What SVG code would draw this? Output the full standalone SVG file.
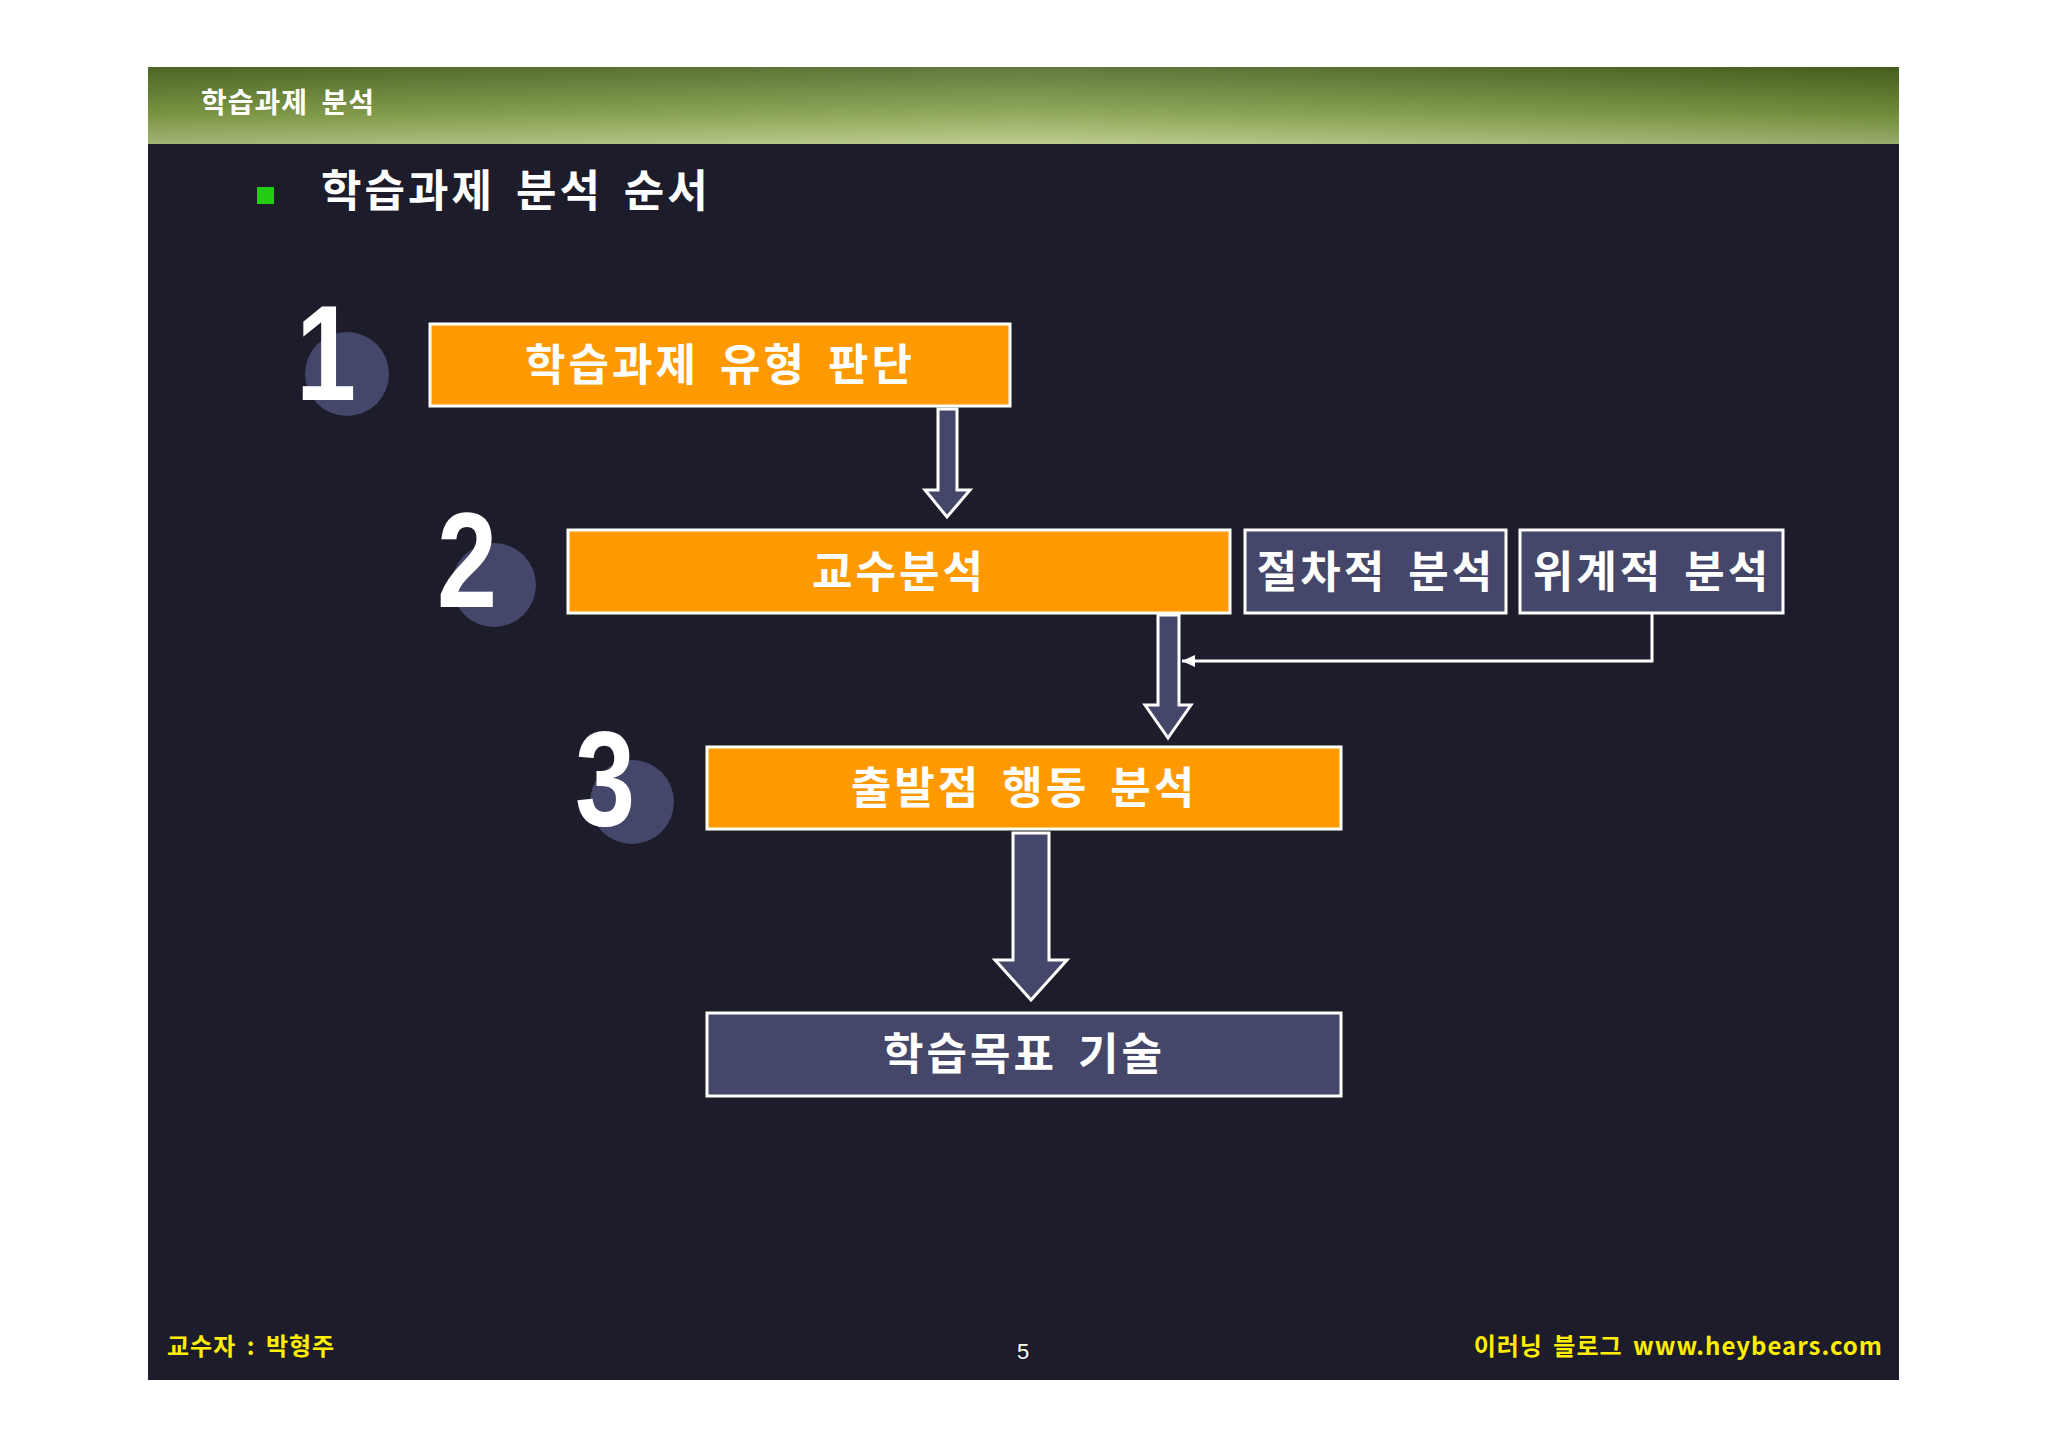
<svg xmlns="http://www.w3.org/2000/svg" width="2048" height="1449" viewBox="0 0 2048 1449">
<defs>
<linearGradient id="hdr" x1="0" y1="0" x2="0" y2="1">
<stop offset="0" stop-color="#3f5a1c"/><stop offset="0.6" stop-color="#7f9a45"/><stop offset="1" stop-color="#b9c98a"/>
</linearGradient>
<linearGradient id="hdr2" x1="0" y1="0" x2="1" y2="0">
<stop offset="0" stop-color="#6a7f3a" stop-opacity="0.3"/><stop offset="0.5" stop-color="#c9d9a0" stop-opacity="0.25"/><stop offset="1" stop-color="#4c6420" stop-opacity="0.3"/>
</linearGradient>
<marker id="ah" markerWidth="14" markerHeight="14" refX="13" refY="7" orient="auto" markerUnits="userSpaceOnUse">
<path d="M0,1 L13,7 L0,13 Z" fill="#fff" stroke="none"/>
</marker>
</defs>
<style>
.k{font-family:"Noto Sans CJK KR","Liberation Sans",sans-serif;font-weight:bold;}
.bt{fill:#fff;font-size:44px;text-anchor:middle;letter-spacing:3px;word-spacing:8px;}
.or{fill:#FF9900;stroke:#fff;stroke-width:3;}
.nv{fill:#45476a;stroke:#fff;stroke-width:3;}
.num{font-family:"Liberation Sans",sans-serif;font-weight:bold;fill:#fff;font-size:135px;}
.ci{fill:#45476a;}
.ft{fill:#ffee00;font-size:24px;letter-spacing:1px;word-spacing:4px;}
</style>
<rect width="2048" height="1449" fill="#fff"/>
<rect x="148" y="144" width="1751" height="1236" fill="#1c1c2a"/>
<rect x="148" y="67" width="1751" height="77" fill="url(#hdr)"/>
<rect x="148" y="67" width="1751" height="77" fill="url(#hdr2)"/>
<text class="k" x="201" y="113" fill="#fff" font-size="28" letter-spacing="1" word-spacing="6">학습과제 분석</text>
<rect x="257" y="187" width="17" height="17" fill="#22cc11"/>
<text class="k" x="321" y="207" fill="#fff" font-size="44" letter-spacing="3" word-spacing="8">학습과제 분석 순서</text>
<g id="n1"><circle class="ci" cx="347" cy="374" r="42"/><text class="num" x="296" y="400" transform="translate(296,0) scale(0.8,1) translate(-296,0)">1</text>
<rect class="or" x="430" y="324" width="580" height="82"/><text class="k bt" x="720" y="381">학습과제 유형 판단</text></g>
<g id="n2"><circle class="ci" cx="494" cy="585" r="42"/><text class="num" x="437" y="607" transform="translate(437,0) scale(0.8,1) translate(-437,0)">2</text>
<rect class="or" x="568" y="530" width="662" height="83"/><text class="k bt" x="899" y="588">교수분석</text></g>
<g id="n2a"><rect class="nv" x="1245" y="530" width="261" height="83"/><text class="k bt" x="1376" y="588">절차적 분석</text></g>
<g id="n2b"><rect class="nv" x="1520" y="530" width="263" height="83"/><text class="k bt" x="1652" y="588">위계적 분석</text></g>
<g id="n3"><circle class="ci" cx="632" cy="802" r="42"/><text class="num" x="575" y="825" transform="translate(575,0) scale(0.8,1) translate(-575,0)">3</text>
<rect class="or" x="707" y="747" width="634" height="82"/><text class="k bt" x="1024" y="804">출발점 행동 분석</text></g>
<g id="n4"><rect class="nv" x="707" y="1013" width="634" height="83"/><text class="k bt" x="1024" y="1070">학습목표 기술</text></g>
<g id="connectors" stroke="#fff" stroke-width="3">
<path d="M938,409 H957 V490 H970 L947,517 L925,490 H938 Z" fill="#45476a"/>
<path d="M1158,615 H1179 V705 H1191 L1168,738 L1145,705 H1158 Z" fill="#45476a"/>
<path d="M1013,833 H1049 V960 H1067 L1031,1000 L995,960 H1013 Z" fill="#45476a"/>
<path d="M1652,613 V661 H1182" fill="none" marker-end="url(#ah)"/>
</g>
<text class="k ft" x="167" y="1355">교수자 : 박형주</text>
<text x="1023" y="1359" fill="#fff" font-size="22" text-anchor="middle" font-family="Liberation Sans,sans-serif">5</text>
<text class="k ft" x="1883" y="1355" text-anchor="end">이러닝 블로그 www.heybears.com</text>
</svg>
